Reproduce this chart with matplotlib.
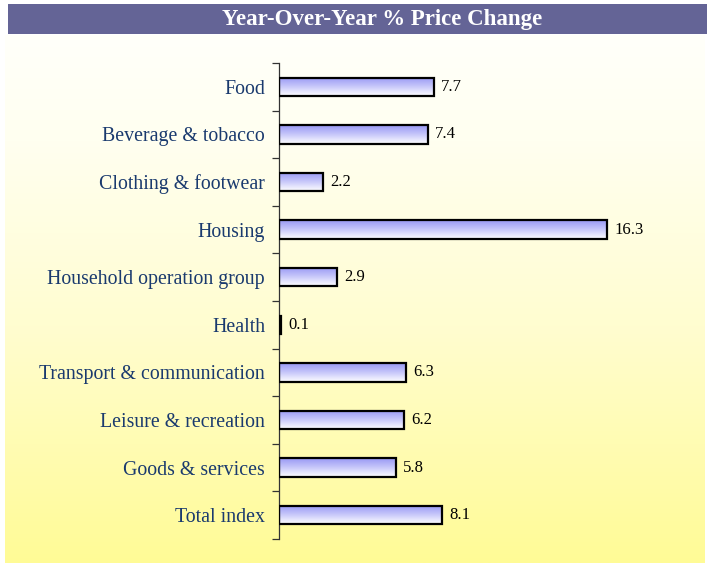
import numpy as np
import matplotlib
matplotlib.use("Agg")
import matplotlib.pyplot as plt
from matplotlib.patches import Rectangle
from matplotlib.colors import LinearSegmentedColormap

categories = ["Food", "Beverage & tobacco", "Clothing & footwear", "Housing",
              "Household operation group", "Health", "Transport & communication",
              "Leisure & recreation", "Goods & services", "Total index"]
values = [7.7, 7.4, 2.2, 16.3, 2.9, 0.1, 6.3, 6.2, 5.8, 8.1]
title = "Year-Over-Year % Price Change"

W, H = 709, 565
fig = plt.figure(figsize=(W / 100, H / 100), dpi=100)
fig.patch.set_facecolor("white")

# background gradient panel
bg = fig.add_axes([5 / W, (H - 563) / H, 700 / W, 528 / H])
bg.set_axis_off()
bgcmap = LinearSegmentedColormap.from_list(
    "bg", [(0, "#fffffa"), (0.2, "#fffff0"), (0.55, "#fffdd0"), (1, "#fffb96")])
grad = np.linspace(0, 1, 256).reshape(-1, 1)
bg.imshow(grad, aspect="auto", cmap=bgcmap, extent=[0, 1, 0, 1], origin="upper")
bg.set_xlim(0, 1); bg.set_ylim(0, 1)

# title bar
tb = fig.add_axes([8 / W, (H - 34) / H, 699 / W, 30 / H])
tb.set_axis_off()
tb.add_patch(Rectangle((0, 0), 1, 1, transform=tb.transAxes, color="#646496"))
tb.text((382 - 8) / 699, 0.47, title, transform=tb.transAxes, ha="center", va="center",
        color="white", fontsize=16.5, fontweight="bold", family="Liberation Serif")

# main axes
x0, px_per_unit = 279, 328 / 16.3
xmax = 20
ax = fig.add_axes([x0 / W, (H - 539) / H, px_per_unit * xmax / W, 476 / H])
ax.patch.set_alpha(0)
n = len(categories)

barcmap = LinearSegmentedColormap.from_list("bar", ["#9898f4", "#c8c8fa", "#ffffff"])
bh = 0.39
for i, v in enumerate(values):
    img = ax.imshow(grad, aspect="auto", cmap=barcmap,
                    extent=[0, v, i + bh / 2, i - bh / 2], origin="upper", zorder=2)
    r = Rectangle((0, i - bh / 2), v, bh, facecolor="none", edgecolor="black",
                  linewidth=1.6, zorder=3)
    ax.add_patch(r)
    img.set_clip_path(r)
    ax.text(v + 0.35, i, f"{v}", va="center", ha="left", fontsize=12,
            family="Liberation Serif", color="black")
ax.set_xlim(0, xmax)
ax.set_ylim(n - 0.5, -0.5)

for s in ["top", "right", "bottom"]:
    ax.spines[s].set_visible(False)
ax.spines["left"].set_color("#333333")
ax.spines["left"].set_linewidth(0.9)
ax.set_xticks([])
ax.set_yticks(range(n))
ax.set_yticklabels(categories, family="Liberation Serif", fontsize=14.3, color="#1a3a6e")
ax.tick_params(axis="y", which="major", length=0, pad=10)
ax.set_yticks(np.arange(-0.5, n, 1.0), minor=True)
ax.tick_params(axis="y", which="minor", length=5, width=0.9, color="#333333", direction="out")

fig.savefig("out.png", dpi=100)
